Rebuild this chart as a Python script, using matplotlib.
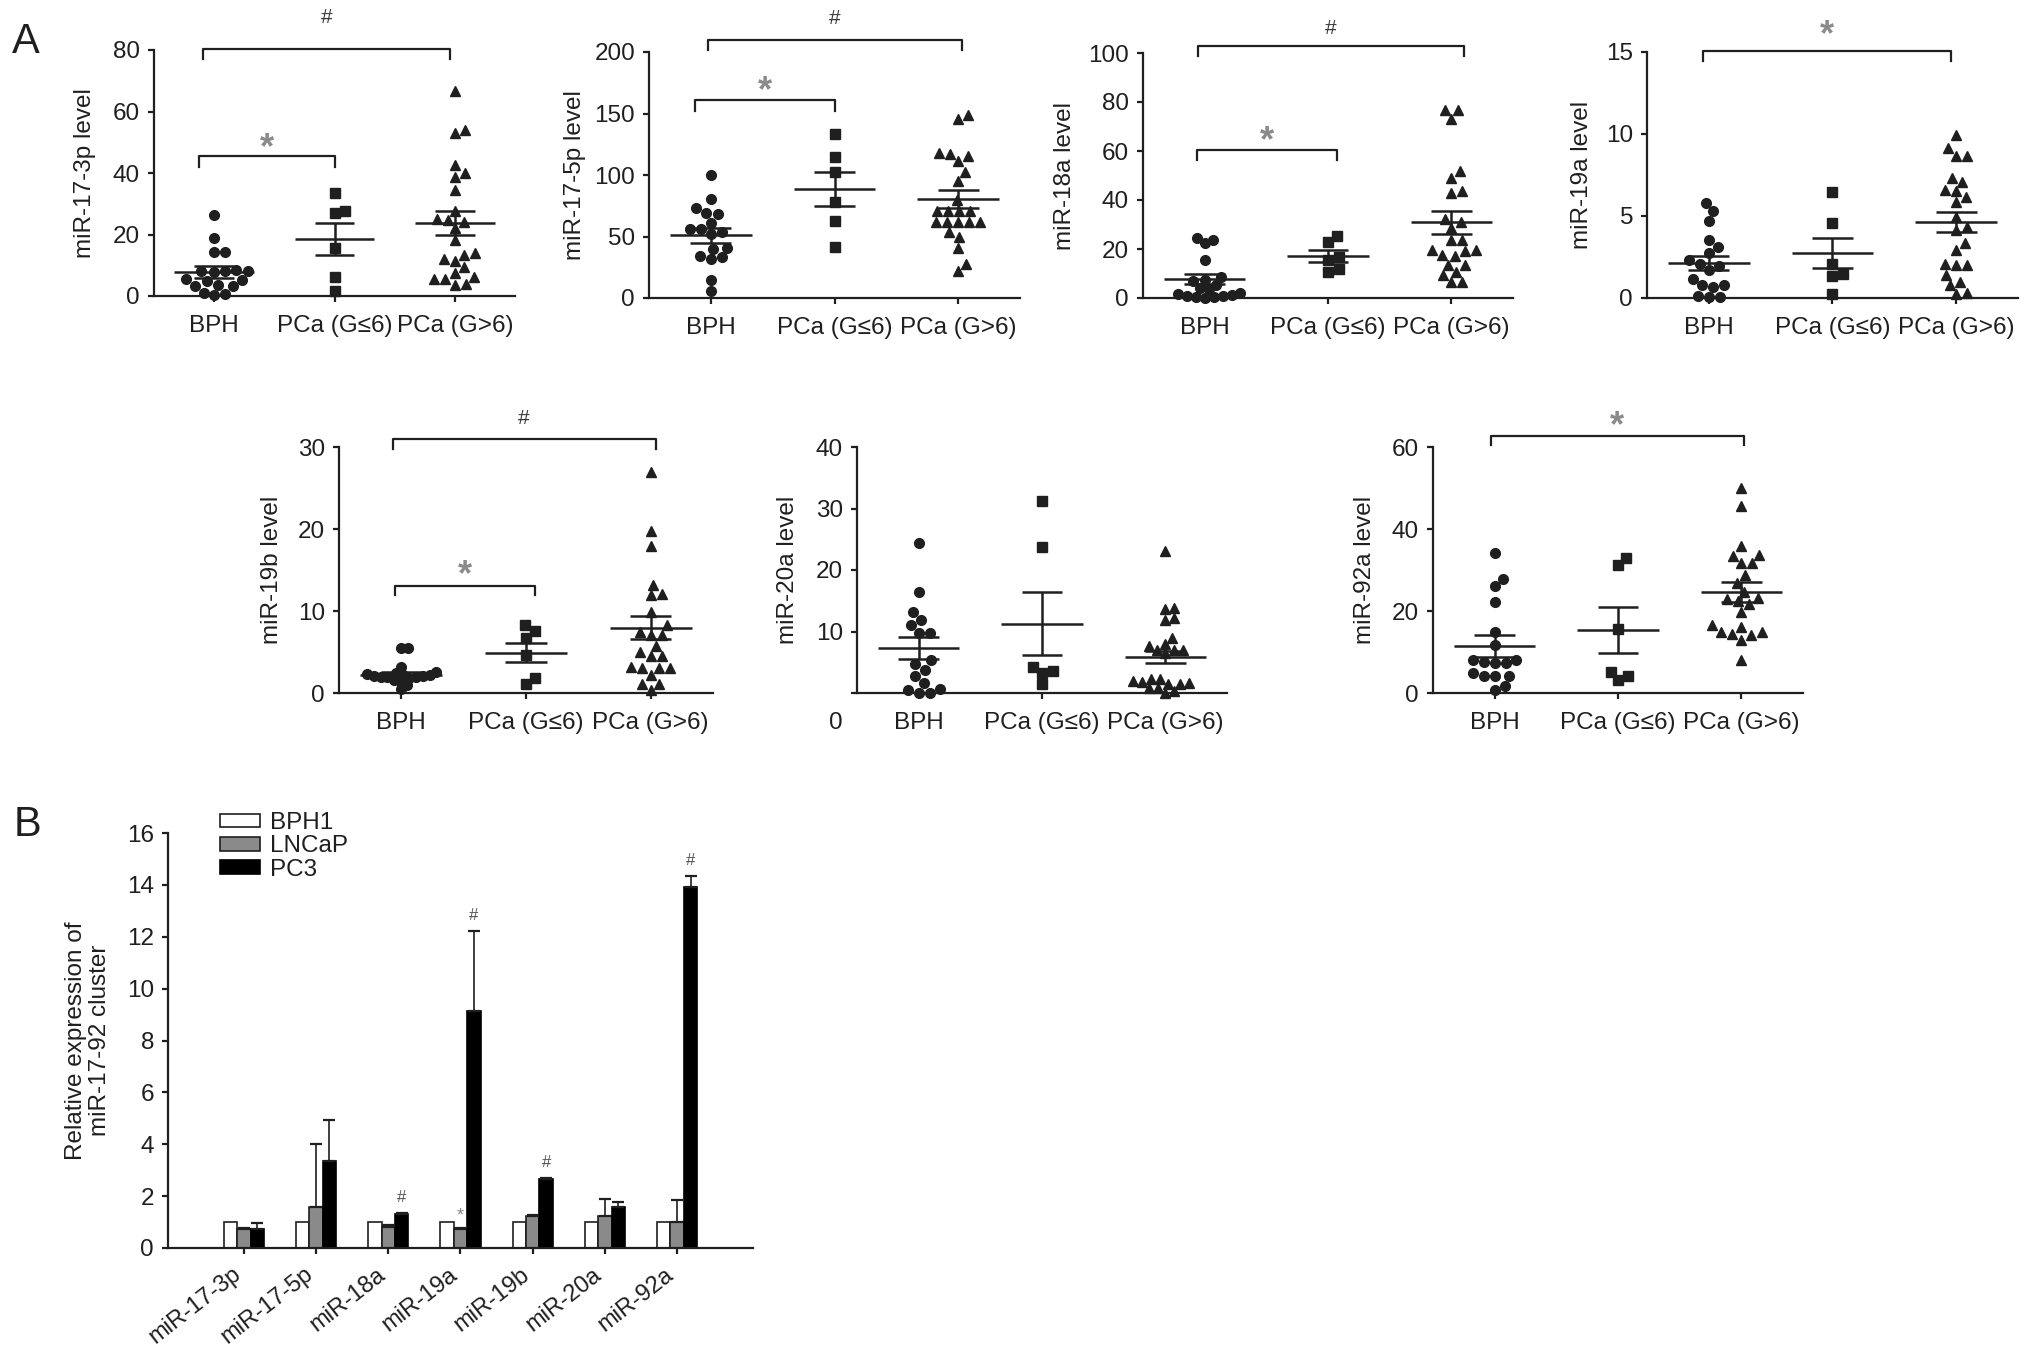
import numpy as np
import matplotlib
matplotlib.use("Agg")
import matplotlib.pyplot as plt
from matplotlib.transforms import offset_copy, ScaledTranslation
from matplotlib.patches import Patch

plt.rcParams['font.family'] = ['Liberation Sans', 'DejaVu Sans']

W, H = 2031, 1348
INK = '#1f1f1f'
STAR = '#8a8a8a'

groups = ['BPH', 'PCa (G≤6)', 'PCa (G>6)']

# --- A: dot plots ---
m17_3p_bph = [26.3, 19.0, 14.4, 14.4, 8.5, 8.2, 8.0, 8.0, 7.8, 5.5, 5.2, 5.0, 3.6, 3.4, 3.3, 1.1, 0.7, 0.2]
m17_3p_low = [33.6, 26.9, 27.8, 15.5, 6.1, 1.7]
m17_3p_high = [66.8, 53.1, 54.0, 42.6, 38.8, 39.9, 34.5, 27.8, 24.7, 24.2, 24.9, 22.0,
               18.2, 13.3, 11.5, 12.0, 13.9, 9.5, 6.3, 5.4, 3.6, 3.8, 5.4, 7.4]
m17_3p_mean = [7.9, 18.5, 23.8]
m17_3p_sem = [1.9, 5.3, 4.0]

m17_5p_bph = [100, 80.4, 72.8, 69.3, 67.9, 61.1, 56.5, 55.7, 53.3, 52.0, 41.0, 40.2,
              34.0, 33.4, 31.5, 14.9, 5.7]
m17_5p_low = [133.4, 114.4, 102.2, 78.3, 62.8, 41.6]
m17_5p_high = [145.4, 148.9, 117.7, 115.8, 117.1, 111.4, 102.2, 95.4, 79.6, 70.9, 70.9,
               70.9, 70.9, 62.0, 62.0, 62.0, 62.0, 62.0, 49.7, 53.3, 40.8, 28.0, 22.0]
m17_5p_mean = [51.1, 88.6, 80.4]
m17_5p_sem = [6.2, 14.0, 7.4]

m18a_bph = [24.5, 23.5, 22.4, 15.6, 8.6, 7.5, 6.8, 5.5, 4.2, 3.5, 2.0, 1.5, 1.2, 0.8,
            0.5, 0.3, 0.2, 1.0]
m18a_low = [25.2, 22.7, 15.4, 10.6, 11.8, 16.7]
m18a_high = [76.9, 76.6, 73.1, 51.7, 49.0, 42.9, 43.5, 30.9, 32.4, 28.6, 23.8, 23.8,
             19.7, 19.7, 19.0, 17.4, 17.0, 13.6, 13.3, 9.3, 10.6, 6.5, 6.5]
m18a_mean = [7.8, 17.0, 31.0]
m18a_sem = [2.1, 2.4, 4.7]

m19a_bph = [5.81, 5.3, 4.69, 3.53, 3.12, 2.77, 2.3, 2.06, 1.94, 1.69, 1.18, 0.77, 0.67,
            0.77, 0.1, 0.05, 0.05]
m19a_low = [6.48, 4.59, 2.06, 1.45, 1.32, 0.26]
m19a_high = [9.94, 9.13, 8.66, 8.66, 7.3, 7.09, 6.17, 6.58, 6.54, 5.83, 4.95, 4.34, 4.14,
             3.36, 2.95, 2.1, 2.04, 2.04, 1.39, 0.77, 0.98, 0.22, 0.31]
m19a_mean = [2.14, 2.75, 4.65]
m19a_sem = [0.45, 0.92, 0.62]

m19b_bph = [5.5, 5.5, 3.2, 2.6, 2.4, 2.3, 2.2, 2.2, 2.1, 2.1, 2.0, 2.0, 1.9, 1.8, 1.6,
            1.4, 1.0, 0.5]
m19b_low = [8.25, 7.52, 6.7, 4.67, 1.83, 1.14]
m19b_high = [27.0, 19.8, 17.9, 13.2, 12.1, 11.9, 9.9, 8.25, 7.5, 7.1, 7.1, 5.7, 5.0, 4.5,
             4.5, 3.0, 3.0, 2.15, 3.0, 3.2, 1.14, 1.14, 0.33]
m19b_mean = [2.24, 4.92, 7.93]
m19b_sem = [0.35, 1.17, 1.4]

m20a_bph = [24.4, 16.5, 13.2, 11.1, 11.9, 9.8, 9.8, 5.3, 4.7, 3.8, 2.8, 1.6, 0.5, 0.0,
            0.0, 0.7]
m20a_low = [31.2, 23.7, 4.3, 3.5, 3.3, 1.5]
m20a_high = [23.1, 13.6, 13.8, 11.9, 12.2, 8.9, 8.0, 7.6, 7.0, 7.0, 7.0, 6.5, 1.6, 1.4,
             2.2, 2.2, 1.8, 2.0, 0.8, 0.3, 0.0, 0.8, 1.4]
m20a_mean = [7.3, 11.3, 5.85]
m20a_sem = [1.75, 5.1, 1.0]

m92a_bph = [34.2, 27.8, 26.2, 22.1, 14.9, 11.7, 8.0, 7.6, 7.2, 7.2, 8.0, 4.2, 4.2, 5.0,
            4.2, 1.7, 0.65]
m92a_low = [33.0, 31.1, 15.5, 5.1, 3.1, 4.1]
m92a_high = [50.1, 45.7, 35.9, 33.7, 33.4, 31.6, 31.6, 28.8, 26.9, 24.7, 22.9, 21.8, 23.1,
             22.4, 19.8, 16.1, 16.5, 14.8, 14.1, 13.0, 14.3, 14.8, 8.0]
m92a_mean = [11.5, 15.3, 24.7]
m92a_sem = [2.6, 5.6, 2.4]

# significance brackets: (symbol, from, to, bracket level, leg, symbol level)
m17_3p_sig = [('*', -0.13, 1.0, 45.5, 3.5, 50.7), ('#', -0.09, 1.96, 80.2, 3.0, 90.5)]
m17_5p_sig = [('*', -0.13, 1.0, 161, 9, 175), ('#', -0.02, 2.03, 210, 8, 227)]
m18a_sig = [('*', -0.06, 1.07, 60.3, 4, 67.3), ('#', -0.05, 2.1, 102.7, 4, 110)]
m19a_sig = [('*', -0.05, 1.96, 15.04, 0.6, 16.5)]
m19b_sig = [('*', -0.05, 1.07, 13.1, 1.2, 15.4), ('#', -0.07, 2.04, 31.0, 1.2, 33.5)]
m20a_sig = []
m92a_sig = [('*', -0.03, 2.02, 62.8, 2.4, 67.1)]

# --- B: bar chart ---
mirs = ['miR-17-3p', 'miR-17-5p', 'miR-18a', 'miR-19a', 'miR-19b', 'miR-20a', 'miR-92a']
bph1 = [1, 1, 1, 1, 1, 1, 1]
lncap = [0.72, 1.57, 0.82, 0.72, 1.22, 1.22, 1.0]
lncap_err = [0.04, 2.43, 0.07, 0.07, 0.06, 0.68, 0.86]
pc3 = [0.72, 3.35, 1.30, 9.15, 2.66, 1.60, 13.92]
pc3_err = [0.24, 1.57, 0.04, 3.07, 0.04, 0.18, 0.42]
pc3_sig = ['', '', '#', '#', '#', '', '#']
lncap_sig = ['', '', '', '*', '', '', '']

panels = [
    ('miR-17-3p level', [m17_3p_bph, m17_3p_low, m17_3p_high], m17_3p_mean, m17_3p_sem,
     [0, 20, 40, 60, 80], m17_3p_sig, (154, 515, 296, 50), 69),
    ('miR-17-5p level', [m17_5p_bph, m17_5p_low, m17_5p_high], m17_5p_mean, m17_5p_sem,
     [0, 50, 100, 150, 200], m17_5p_sig, (649, 1020, 298, 52), 74),
    ('miR-18a level', [m18a_bph, m18a_low, m18a_high], m18a_mean, m18a_sem,
     [0, 20, 40, 60, 80, 100], m18a_sig, (1143, 1513, 298, 53), 78),
    ('miR-19a level', [m19a_bph, m19a_low, m19a_high], m19a_mean, m19a_sem,
     [0, 5, 10, 15], m19a_sig, (1647, 2018, 298, 52), 65),
    ('miR-19b level', [m19b_bph, m19b_low, m19b_high], m19b_mean, m19b_sem,
     [0, 10, 20, 30], m19b_sig, (339, 713, 693, 447), 67),
    ('miR-20a level', [m20a_bph, m20a_low, m20a_high], m20a_mean, m20a_sem,
     [0, 10, 20, 30, 40], m20a_sig, (857, 1227, 693, 447), 69),
    ('miR-92a level', [m92a_bph, m92a_low, m92a_high], m92a_mean, m92a_sem,
     [0, 20, 40, 60], m92a_sig, (1433, 1803, 693, 447), 68),
]

markers = [('o', 7.0), ('s', 6.5), ('^', 7.2)]


def rect(l, r, b, t):
    return [l / W, 1 - b / H, (r - l) / W, (b - t) / H]


def swarm_px(ys, d):
    # simple beeswarm in display pixels, returns x offsets
    off = np.zeros(len(ys))
    placed = []
    for i in np.argsort(ys):
        y = ys[i]
        cands = [0.0]
        for px, py in placed:
            dy = abs(py - y)
            if dy < d:
                dx = np.sqrt(d * d - dy * dy)
                cands += [px + dx, px - dx]
        cands.sort(key=abs)
        for c in cands:
            if all((c - px) ** 2 + (y - py) ** 2 >= d * d - 1e-6 for px, py in placed):
                off[i] = c
                break
        placed.append((off[i], y))
    return off


def swarm(ax, xc, vals, limit=38):
    pts = ax.transData.transform(np.column_stack([np.full(len(vals), xc), vals]))
    ys = pts[:, 1]
    # shrink spacing until the cloud fits the column, like Prism does
    for d in [11, 10, 9, 8, 7, 6, 5, 4]:
        off = swarm_px(ys, d)
        if np.abs(off).max() <= limit:
            break
    unit = ax.transData.transform([(1, 0)])[0, 0] - ax.transData.transform([(0, 0)])[0, 0]
    return xc + off / unit


def style(ax):
    for s in ['top', 'right']:
        ax.spines[s].set_visible(False)
    for s in ['left', 'bottom']:
        ax.spines[s].set_linewidth(1.6)
        ax.spines[s].set_color(INK)
    ax.tick_params(direction='out', length=4, width=1.6, color=INK, labelcolor=INK)


fig = plt.figure(figsize=(W / 100, H / 100), dpi=100)

for ylabel, vals, means, sems, yt, sig, box, ldist in panels:
    ax = fig.add_axes(rect(*box))
    style(ax)
    ax.set_xlim(-0.5, 2.5)
    ax.set_ylim(yt[0], yt[-1])
    ax.set_yticks(yt)
    ax.set_xticks([0, 1, 2])
    ax.set_xticklabels(groups)
    ax.tick_params(axis='x', labelsize=17.5, pad=10)
    ax.tick_params(axis='y', labelsize=17.5, pad=6)
    wpx = box[1] - box[0]
    ax.text(-ldist / wpx, 0.5, ylabel, transform=ax.transAxes, rotation=90,
            ha='center', va='center', fontsize=17.5, color=INK)
    for g, v in enumerate(vals):
        xs = swarm(ax, g, v)
        m, ms = markers[g]
        ax.plot(xs, v, ls='none', marker=m, ms=ms, color=INK, mec=INK, clip_on=False, zorder=3)
        ax.hlines(means[g], g - 0.33, g + 0.33, color=INK, lw=1.8, zorder=4)
        ax.hlines([means[g] - sems[g], means[g] + sems[g]], g - 0.165, g + 0.165,
                  color=INK, lw=1.8, zorder=4)
        ax.vlines(g, means[g] - sems[g], means[g] + sems[g], color=INK, lw=1.8, zorder=4)
    for sym, x0, x1, yb, leg, ys in sig:
        ax.plot([x0, x0, x1, x1], [yb - leg, yb, yb, yb - leg], color=INK, lw=1.6,
                clip_on=False)
        if sym == '*':
            tr = offset_copy(ax.transData, fig=fig, y=-13, units='points')
            ax.text((x0 + x1) / 2, ys, '*', transform=tr, ha='center', va='baseline',
                    fontsize=26, fontweight='bold', color=STAR, clip_on=False)
        else:
            ax.text((x0 + x1) / 2, ys, '#', ha='center', va='center', fontsize=15,
                    color='#3a3a3a', clip_on=False)
    if ylabel == 'miR-20a level':
        ax.set_yticklabels([''] + [str(t) for t in yt[1:]])
        fig.text(836 / W, 1 - 723 / H, '0', ha='center', va='center', fontsize=17.5, color=INK)

fig.text(12 / W, 1 - 22 / H, 'A', ha='left', va='top', fontsize=30, color=INK)
fig.text(14 / W, 1 - 805 / H, 'B', ha='left', va='top', fontsize=30, color=INK)

# --- B ---
axb = fig.add_axes(rect(168, 753, 1248, 833))
style(axb)
x = np.arange(len(mirs))
bw = 0.185
axb.bar(x - bw, bph1, bw, color='white', edgecolor=INK, lw=1.2, label='BPH1')
axb.bar(x, lncap, bw, color='#8a8a8a', edgecolor=INK, lw=1.2, label='LNCaP')
axb.bar(x + bw, pc3, bw, color='black', edgecolor='black', lw=1.2, label='PC3')
z = np.zeros(len(mirs))
axb.errorbar(x, lncap, yerr=[z, lncap_err], fmt='none', ecolor=INK, elinewidth=1.2,
             capsize=4, capthick=1.6)
axb.errorbar(x + bw, pc3, yerr=[z, pc3_err], fmt='none', ecolor=INK, elinewidth=1.2,
             capsize=4, capthick=1.6)
for i in range(len(mirs)):
    if pc3_sig[i]:
        axb.text(x[i] + bw, pc3[i] + pc3_err[i] + 0.6, pc3_sig[i], ha='center', va='center',
                 fontsize=12, color='#555555')
    if lncap_sig[i]:
        axb.text(x[i], lncap[i] + lncap_err[i] + 0.45, lncap_sig[i], ha='center',
                 va='center', fontsize=13, color=STAR)
axb.set_xlim(-1.05, 7.05)
axb.set_ylim(0, 16)
axb.set_yticks(range(0, 17, 2))
axb.set_xticks(x)
axb.set_xticklabels(mirs, rotation=38, ha='right', rotation_mode='anchor')
axb.tick_params(axis='x', labelsize=17, pad=7)
axb.tick_params(axis='y', labelsize=17.5, pad=6)
shift = ScaledTranslation(-9 / 72, 0, fig.dpi_scale_trans)
for lab in axb.get_xticklabels():
    lab.set_transform(lab.get_transform() + shift)
axb.text(-80 / 585, 0.5, 'Relative expression of\nmiR-17-92 cluster', transform=axb.transAxes,
         rotation=90, ha='center', va='center', fontsize=17.5, color=INK, linespacing=1.15)
axb.legend(handles=[Patch(facecolor='white', edgecolor=INK, lw=1.2, label='BPH1'),
                    Patch(facecolor='#8a8a8a', edgecolor=INK, lw=1.2, label='LNCaP'),
                    Patch(facecolor='black', edgecolor='black', lw=1.2, label='PC3')],
           loc='upper left', bbox_to_anchor=(208 / W, 1 - 800 / H),
           bbox_transform=fig.transFigure, frameon=False, fontsize=17.5, borderpad=0,
           handlelength=1.65, handleheight=0.5, handletextpad=0.4, labelspacing=0.05,
           labelcolor=INK)

fig.savefig('out.png', dpi=100)
